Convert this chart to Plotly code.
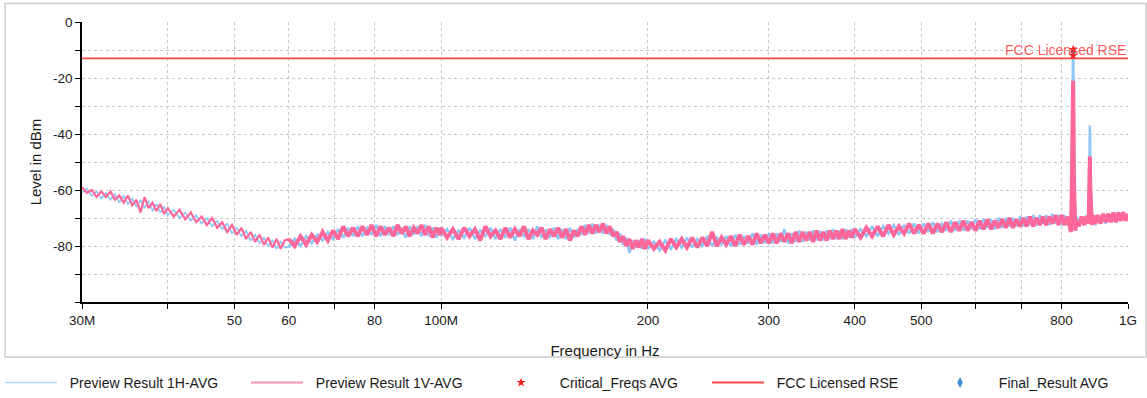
import plotly.graph_objects as go

# measurement grid, MHz
freq_mhz = [
    30, 30.5, 31, 31.5, 32, 32.5, 33, 33.5, 34, 34.5, 35, 35.5, 36, 36.5, 37, 37.5, 38, 38.5, 39, 39.5,
    40, 40.8, 41.6, 42.4, 43.2, 44, 44.8, 45.6, 46.4, 47.2, 48, 48.8, 49.6, 50.4, 51.2, 52, 52.8, 53.6,
    54.4, 55.2, 56, 56.8, 57.6, 58.4, 59.2,
    60, 61.2, 62.4, 63.6, 64.8, 66, 67.2, 68.4, 69.6, 70.8, 72, 73.2, 74.4, 75.6, 76.8, 78, 79.2, 80.4,
    81.6, 82.8, 84, 85.2, 86.4, 87.6, 88.8, 90, 91.2, 92.4, 93.6, 94.8, 96, 97.2, 98.4, 99.6,
    100, 102, 104, 106, 108, 110, 112, 114, 116, 118, 120, 122, 124, 126, 128, 130, 132, 134, 136, 138,
    140, 142, 144, 146, 148, 150, 152, 154, 156, 158, 160, 162, 164, 166, 168, 170, 172, 174, 176, 178,
    180, 182, 184, 186, 188, 190, 192, 194, 196, 198,
    200, 204, 208, 212, 216, 220, 224, 228, 232, 236, 240, 244, 248, 252, 256, 260, 264, 268, 272, 276,
    280, 284, 288, 292, 296, 300, 304, 308, 312, 316, 320, 324, 328, 332, 336, 340, 344, 348, 352, 356,
    360, 364, 368, 372, 376, 380, 384, 388, 392, 396,
    400, 408, 416, 424, 432, 440, 448, 456, 464, 472, 480, 488, 496, 504, 512, 520, 528, 536, 544, 552,
    560, 568, 576, 584, 592, 600, 608, 616, 624, 632, 640, 648, 656, 664, 672, 680, 688, 696, 704, 712,
    720, 728, 736, 744, 752, 760, 768, 776, 784, 792,
    800, 808, 816, 822, 826, 828, 830, 831, 832, 833, 834, 836, 838, 842, 848, 856, 864, 870, 874, 877,
    879, 880, 881, 883, 886, 890, 896, 904, 912, 920, 928, 936, 944, 952, 960, 968, 976, 984, 992, 1000,
]

level_1h = [
    -61, -59.5, -62, -60.5, -63, -61, -63.5, -61.5, -64.5, -62, -65, -63, -66, -63.5, -66.5, -64, -67.5, -65, -68, -66,
    -69, -67, -70, -68, -71, -69, -72, -70, -73, -71, -74, -72, -75.5, -73.5, -76.5, -74.5, -78, -76,
    -79, -77, -80, -78, -81, -78.5, -80.5,
    -80.5, -77.5, -80, -76.5, -79, -76, -78, -75, -77.5, -74, -77, -73.5, -76.5, -73, -76.5, -73.5, -76, -72.5,
    -76.5, -73, -76, -73, -76, -73.5, -77, -73, -76, -73, -76.5, -72.5, -76.5, -73.5, -77, -73.5,
    -76.5, -74, -77.5, -74.5, -77, -73.5, -77.5, -74.5, -76.5, -73.5, -77.5, -74, -77, -73.5, -78, -74, -76.5, -74, -77.5, -73,
    -77, -74.5, -77, -73.5, -77.5, -74, -77.5, -73.5, -77, -74, -76, -72.5, -75.5, -72, -75.5, -72.5, -75.5, -72.5, -76, -74,
    -78, -75.5, -79.5, -77, -82.5, -78, -80.5, -78, -81, -77.5,
    -81, -78.5, -81.5, -78, -81, -77.5, -80.5, -77, -80.5, -77.5, -80, -76.5, -80, -77, -79.5, -76.5, -80, -76, -79.5, -76.5,
    -79, -75.5, -79.5, -76, -79, -75.5, -79, -75.5, -78.5, -74, -79, -75.5, -78.5, -74.5, -78.5, -75, -78, -74.5, -78, -74.5,
    -78, -74.5, -77.5, -74, -77.5, -74.5, -77.5, -74, -77, -74,
    -77, -74, -76.5, -73, -76.5, -73, -75.5, -72.5, -76, -72.5, -75.5, -72, -75.5, -72, -75, -71.5, -75, -72, -74.5, -71,
    -74.5, -71, -74.5, -71, -74, -70.5, -74, -70.5, -73.5, -70.5, -74, -70, -73.5, -70, -73, -70, -73, -69.5, -73, -69.5,
    -72.5, -69, -72.5, -69, -72, -69, -72.5, -68.5, -72, -69,
    -72.5, -69, -72.5, -70, -73, -55, -35, -18, -10, -22, -45, -62, -73, -69.5, -72.5, -70, -72, -69, -71.5, -65,
    -52, -37, -50, -66, -71, -70, -72.5, -69.5, -71.5, -69, -72, -68.5, -71, -69, -71.5, -68.5, -71, -68, -70.5, -69.5,
]

level_1v = [
    -59, -61, -60, -62.5, -60.5, -62.5, -60.5, -63.5, -62, -64.5, -62, -65.5, -63.5, -68, -62.5, -66.5, -64.5, -67.5, -65, -68.5,
    -66.5, -69.5, -67, -70.5, -68, -71.5, -69.5, -72.5, -70, -73.5, -71.5, -75, -72.5, -76, -73.5, -77.5, -75, -78.5,
    -76, -79.5, -77, -80.5, -77.5, -81, -78,
    -77.5, -80, -76.5, -79.5, -76, -78.5, -75, -78, -74.5, -77.5, -73, -76.5, -73.5, -76.5, -73, -76, -72.5, -76.5,
    -73, -76, -73.5, -76.5, -72.5, -75.5, -73, -76.5, -73.5, -75.5, -72.5, -76, -73, -77, -73.5, -76,
    -73.5, -77, -74, -77.5, -73.5, -76.5, -74, -78, -73, -76.5, -74.5, -77.5, -73.5, -77, -74, -76.5, -73, -77.5, -74.5, -76,
    -73.5, -77.5, -74, -76.5, -73.5, -77, -74, -78, -74.5, -76.5, -73, -76, -72.5, -75.5, -72.5, -75, -72, -75.5, -73, -76.5,
    -75, -78.5, -76.5, -80, -77.5, -81, -78, -80.5, -77.5, -81,
    -78, -81, -78.5, -81.5, -77.5, -80.5, -77.5, -80.5, -77, -80.5, -77, -80, -75, -80, -77, -79.5, -76.5, -80, -76, -79.5,
    -76.5, -79.5, -75.5, -79, -76, -79, -75.5, -79, -75.5, -78.5, -75.5, -79, -75, -78.5, -75, -78, -75, -78.5, -74.5, -78,
    -75, -78, -74.5, -77.5, -74.5, -77.5, -74, -77.5, -74.5, -77,
    -74, -77, -73.5, -76.5, -73, -76.5, -72.5, -76, -73, -75.5, -72, -75.5, -72.5, -75.5, -72, -75.5, -72, -75, -71.5, -75,
    -71.5, -74.5, -71, -74.5, -71.5, -74.5, -71, -74, -70.5, -74, -71, -73.5, -70.5, -73.5, -70, -73.5, -70.5, -73, -70, -73,
    -69.5, -73, -70, -72.5, -69.5, -72.5, -69.5, -72, -69, -72.5,
    -69, -72.5, -69.5, -73, -75, -62, -45, -30, -21, -35, -55, -66, -74.5, -71, -73, -69.5, -72.5, -69.5, -72, -68,
    -60, -48, -58, -69, -72.5, -69, -72, -69, -72, -68.5, -71.5, -68.5, -71.5, -68, -71.5, -68, -71, -68, -71, -68.5,
]

limit_freq = [30, 1000]
limit_level = [-13, -13]

crit_freq = [832, 832]
crit_level = [-9.8, -12]

final_freq = [832]
final_level = [-10.5]

x_tickvals = [30, 40, 50, 60, 70, 80, 100, 200, 300, 400, 500, 600, 700, 800, 1000]
x_ticktext = ['30M', '', '50', '60', '', '80', '100M', '200', '300', '400', '500', '', '', '800', '1G']
y_tickvals = [0, -10, -20, -30, -40, -50, -60, -70, -80, -90, -100]
y_ticktext = ['0', '', '-20', '', '-40', '', '-60', '', '-80', '', '']

FONT = 'Liberation Sans, Arial, sans-serif'
TXT = '#1a1a1a'
PAD = '\u00a0\u00a0'
H_COLOR = '#8ec6f7'
V_COLOR = '#ff6699'

# below 60 MHz the sweep is sparse and reads as a thin line, above it a dense band
SPLIT = 45

fig = go.Figure()

for lo, hi, w_h, w_v in [(0, SPLIT + 1, 1.6, 2.2), (SPLIT, len(freq_mhz), 2.6, 4.0)]:
    fig.add_trace(go.Scatter(x=freq_mhz[lo:hi], y=level_1h[lo:hi], mode='lines', showlegend=False,
                             line=dict(color=H_COLOR, width=w_h)))
for lo, hi, w_h, w_v in [(0, SPLIT + 1, 1.6, 2.2), (SPLIT, len(freq_mhz), 2.6, 4.0)]:
    fig.add_trace(go.Scatter(x=freq_mhz[lo:hi], y=level_1v[lo:hi], mode='lines', showlegend=False,
                             line=dict(color=V_COLOR, width=w_v)))

# legend entries come from thin empty stand-ins
fig.add_trace(go.Scatter(x=[None], y=[None], mode='lines', name=PAD + 'Preview Result 1H-AVG',
                         line=dict(color='#b5d8f8', width=1.5), legend='legend'))
fig.add_trace(go.Scatter(x=[None], y=[None], mode='lines', name=PAD + 'Preview Result 1V-AVG',
                         line=dict(color='#ff8fb3', width=1.8), legend='legend2'))
fig.add_trace(go.Scatter(x=limit_freq, y=limit_level, mode='lines', name=PAD + 'FCC Licensed RSE',
                         line=dict(color='#ff4a4a', width=1.8), legend='legend4'))
fig.add_trace(go.Scatter(x=final_freq, y=final_level, mode='markers', name=PAD + 'Final_Result AVG',
                         marker=dict(symbol='diamond-tall', size=8, color='#3d8fd6'), legend='legend5'))
fig.add_trace(go.Scatter(x=crit_freq, y=crit_level, mode='markers', name=PAD + 'Critical_Freqs AVG',
                         marker=dict(symbol='star', size=7, color='#ff2020'), legend='legend3'))

fig.add_annotation(x=3, y=-13, xref='x', yref='y', text='FCC Licensed RSE', showarrow=False,
                   xanchor='right', yanchor='bottom', yshift=-2,
                   font=dict(family=FONT, size=14, color='rgba(255,60,60,0.85)'))

# light frame around the chart area
fig.add_shape(type='rect', xref='paper', yref='paper', x0=-0.0736, x1=1.0172, y0=-0.1964, y1=1.066,
              line=dict(color='#cccccc', width=1.5), fillcolor='rgba(0,0,0,0)', layer='below')

fig.update_xaxes(type='log', range=[1.4771, 3.0], tickvals=x_tickvals, ticktext=x_ticktext,
                 showline=True, linecolor='black', linewidth=1.5, ticks='outside', ticklen=5,
                 tickcolor='black', showgrid=True, gridcolor='#c8c8c8', griddash='dot', gridwidth=1,
                 zeroline=False, automargin=False, tickfont=dict(family=FONT, size=13.5, color=TXT),
                 title=dict(text='Frequency in Hz', standoff=19, font=dict(family=FONT, size=15, color=TXT)))
fig.update_yaxes(range=[-100, 0], tickvals=y_tickvals, ticktext=y_ticktext,
                 showline=True, linecolor='black', linewidth=1.5, ticks='outside', ticklen=5,
                 tickcolor='black', showgrid=True, gridcolor='#c8c8c8', griddash='dot', gridwidth=1,
                 zeroline=False, automargin=False, tickfont=dict(family=FONT, size=13.5, color=TXT),
                 title=dict(text='Level in dBm', standoff=8, font=dict(family=FONT, size=15, color=TXT)))

leg = dict(orientation='h', y=-0.289, xanchor='left', yanchor='middle', itemwidth=52,
           font=dict(family=FONT, size=14, color=TXT), bgcolor='rgba(0,0,0,0)')

fig.update_layout(
    width=1147, height=398,
    margin=dict(l=82, r=19, t=22, b=96, autoexpand=False),
    paper_bgcolor='white', plot_bgcolor='white',
    font=dict(family=FONT, size=13, color=TXT),
    showlegend=True,
    legend=dict(leg, x=-0.0784),
    legend2=dict(leg, x=0.1568),
    legend3=dict(leg, x=0.3901),
    legend4=dict(leg, x=0.5975),
    legend5=dict(leg, x=0.8098),
)

# page body margin would push the fixed-size figure out of the window
fig.write_html("out.html", config={'displayModeBar': False},
               post_script="document.body.style.margin='0';")
